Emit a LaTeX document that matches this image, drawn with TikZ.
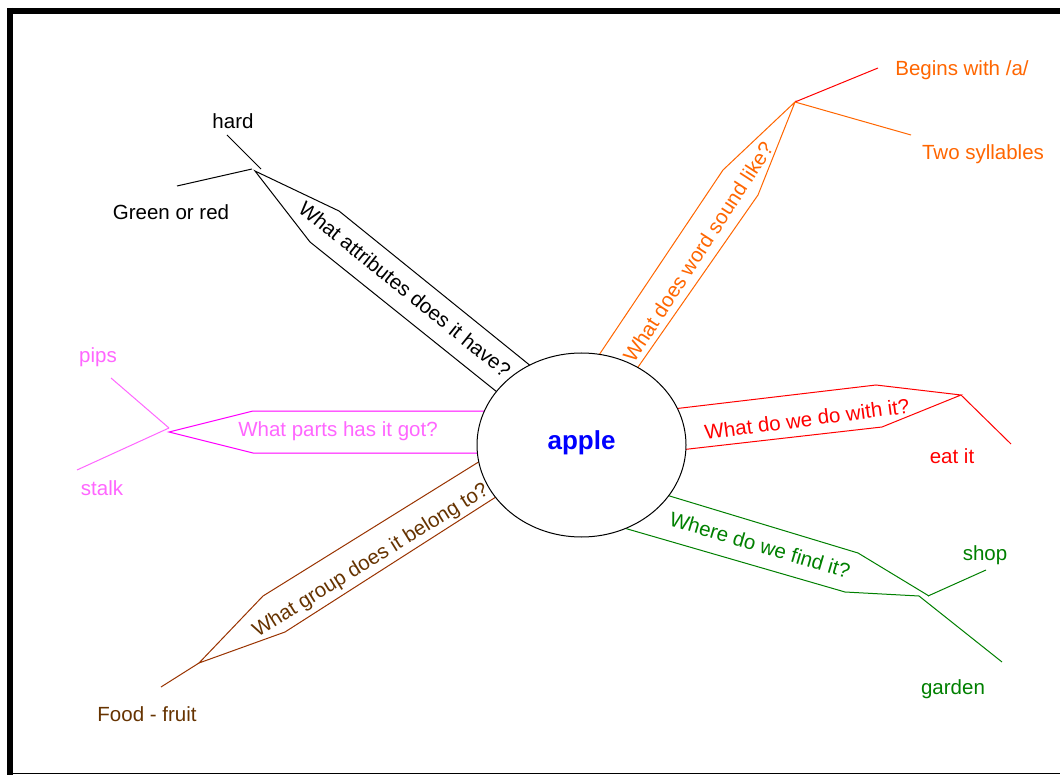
\documentclass[tikz,border=0pt]{standalone}
\usepackage{fontspec}
\setmainfont{Liberation Sans}
\usetikzlibrary{shapes.geometric}
\definecolor{orng}{HTML}{FF6600}
\definecolor{rd}{HTML}{FF0000}
\definecolor{grn}{HTML}{008000}
\definecolor{mgline}{HTML}{FF00FF}
\definecolor{mgtext}{HTML}{FF66FF}
\definecolor{brline}{HTML}{993300}
\definecolor{brtext}{HTML}{663300}
\definecolor{appleblue}{HTML}{0000FF}
\begin{document}
\begin{tikzpicture}[x=1pt,y=-1pt,
  lbl/.style={inner sep=0pt,font=\fontsize{20.5}{24}\selectfont},
  band/.style={line width=1pt,line join=miter},
  twig/.style={line width=1pt}]
\useasboundingbox (0,0) rectangle (1060,775);
\fill[white] (0,0) rectangle (1060,775);
% frame
\draw[line width=6pt] (10,8) -- (10,775);
\draw[line width=6pt] (7,11) -- (1060,11);
\draw[line width=1.5pt] (10,773.5) -- (1060,773.5);

% tips
\coordinate (tb) at (255,171);
\coordinate (to) at (795,102);
\coordinate (tr) at (961,395);
\coordinate (tg) at (926,596);
\coordinate (tm) at (169,432);
\coordinate (tw) at (199,663);

% black band
\draw[band,black] (532,367) -- (339,211) -- (tb) -- (310,242) -- (497,392);
\coordinate (bh) at (227,135);
\coordinate (bg) at (177,186);
\draw[twig,black] (bh) -- (261,169);
\draw[twig,black] (bg) -- (252,169);
\node[lbl,black,rotate=-39] at (405,289) {What attributes does it have?};
\node[lbl,black] at (233,121) {hard};
\node[lbl,black] at (171,212) {Green or red};

% orange band
\draw[band,orng] (597,358) -- (723,170) -- (to) -- (758,195) -- (636,370);
\coordinate (ob) at (878,68);
\coordinate (os) at (911,135);
\draw[twig,rd] (to) -- (ob);
\draw[twig,orng] (to) -- (os);
\node[lbl,orng,rotate=57] at (698,252) {What does word sound like?};
\node[lbl,orng] at (962,70) {Begins with /a/};
\node[lbl,orng] at (983,154) {Two syllables};

% red band
\draw[band,rd] (673,409) -- (876,385) -- (tr) -- (882,427) -- (680,450);
\coordinate (re) at (1011,444);
\draw[twig,rd] (tr) -- (re);
\node[lbl,rd,rotate=7.5] at (807,419) {What do we do with it?};
\node[lbl,rd] at (952,456) {eat it};

% green band
\draw[band,grn] (663,494) -- (858,553) -- (929,596);
\draw[band,grn] (624,528) -- (845,592) -- (919,596);
\coordinate (gs) at (986,570);
\coordinate (gg) at (1002,662);
\draw[twig,grn] (928,596) -- (gs);
\draw[twig,grn] (919,596) -- (gg);
\node[lbl,grn,rotate=-16.5] at (760,545) {Where do we find it?};
\node[lbl,grn] at (985,555) {shop};
\node[lbl,grn] at (953,689) {garden};

% magenta band
\draw[band,mgline] (488,411) -- (253,411) -- (tm) -- (253,453) -- (482,453);
\coordinate (mp) at (111,378);
\coordinate (ms) at (77,470);
\draw[twig,mgtext] (mp) -- (169,428);
\draw[twig,mgtext] (ms) -- (169,428);
\node[lbl,mgtext] at (338,431) {What parts has it got?};
\node[lbl,mgtext] at (98,357) {pips};
\node[lbl,mgtext] at (102,488) {stalk};

% brown band
\draw[band,brline] (485,458) -- (263,596) -- (tw) -- (285,632) -- (499,495);
\coordinate (wf) at (161,687);
\draw[twig,brline] (tw) -- (wf);
\node[lbl,brtext,rotate=32] at (371,561) {What group does it belong to?};
\node[lbl,brtext] at (147,714) {Food - fruit};

% centre
\node[draw=black,line width=1pt,fill=white,ellipse,minimum width=209pt,minimum height=184pt,inner sep=0pt] (c) at (581.5,445) {};
\node[lbl,font=\fontsize{26}{30}\selectfont\bfseries,text=appleblue] at (581.5,443) {apple};
\end{tikzpicture}
\end{document}
